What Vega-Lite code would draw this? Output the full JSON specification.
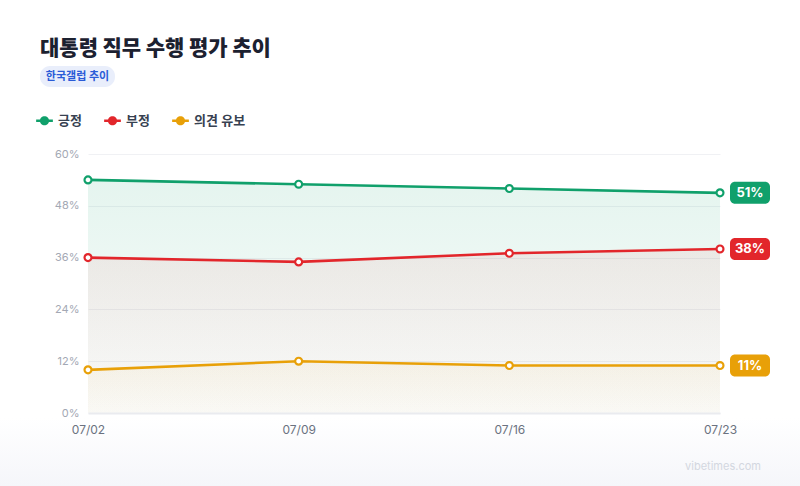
{
  "$schema": "https://vega.github.io/schema/vega-lite/v6.json",
  "width": 632,
  "height": 259,
  "autosize": {"type": "none"},
  "padding": {"left": 88, "top": 154, "right": 80, "bottom": 73},
  "background": "#ffffff",
  "title": {
    "text": "대통령 직무 수행 평가 추이",
    "anchor": "start",
    "frame": "group",
    "dx": -48,
    "offset": 7,
    "fontSize": 21,
    "fontWeight": 800,
    "color": "#1c2130"
  },
  "config": {
    "font": "Inter, 'Noto Sans CJK KR', sans-serif",
    "view": {"stroke": null},
    "axis": {"labelFont": "Inter, 'Noto Sans CJK KR', sans-serif"}
  },
  "data": {
    "values": [
      {"date": "07/02", "series": "긍정", "value": 54},
      {"date": "07/09", "series": "긍정", "value": 53},
      {"date": "07/16", "series": "긍정", "value": 52},
      {"date": "07/23", "series": "긍정", "value": 51},
      {"date": "07/02", "series": "부정", "value": 36},
      {"date": "07/09", "series": "부정", "value": 35},
      {"date": "07/16", "series": "부정", "value": 37},
      {"date": "07/23", "series": "부정", "value": 38},
      {"date": "07/02", "series": "의견 유보", "value": 10},
      {"date": "07/09", "series": "의견 유보", "value": 12},
      {"date": "07/16", "series": "의견 유보", "value": 11},
      {"date": "07/23", "series": "의견 유보", "value": 11}
    ]
  },
  "encoding": {
    "x": {
      "field": "date",
      "type": "ordinal",
      "scale": {"type": "point", "padding": 0},
      "axis": {
        "title": null,
        "labelAngle": 0,
        "labelFontSize": 12,
        "labelColor": "#6b7280",
        "labelPadding": 11,
        "ticks": false,
        "domain": true,
        "domainColor": "#eaebef",
        "domainWidth": 2,
        "grid": false,
        "zindex": 1
      }
    },
    "y": {
      "field": "value",
      "type": "quantitative",
      "scale": {"domain": [0, 60], "nice": false},
      "axis": {
        "title": null,
        "values": [0, 12, 24, 36, 48, 60],
        "labelExpr": "datum.value + '%'",
        "labelFontSize": 11,
        "labelColor": "#a3a8b4",
        "labelPadding": 9,
        "ticks": false,
        "domain": false,
        "gridColor": "#f0f1f4",
        "gridWidth": 1
      }
    }
  },
  "layer": [
    {
      "data": {"values": [{}]},
      "mark": {
        "type": "rect",
        "fill": {
          "gradient": "linear",
          "x1": 0, "y1": 0, "x2": 0, "y2": 1,
          "stops": [
            {"offset": 0, "color": "#ffffff"},
            {"offset": 1, "color": "#f5f6fa"}
          ]
        }
      },
      "encoding": {
        "x": {"value": -88},
        "x2": {"value": 712},
        "y": {"value": 264},
        "y2": {"value": 332}
      }
    },
    {
      "transform": [{"filter": "datum.series === '긍정'"}],
      "mark": {
        "type": "area",
        "fill": {
          "gradient": "linear",
          "x1": 0, "y1": 0, "x2": 0, "y2": 1,
          "stops": [
            {"offset": 0, "color": "rgba(16,160,107,0.11)"},
            {"offset": 1, "color": "rgba(16,160,107,0.02)"}
          ]
        }
      }
    },
    {
      "transform": [{"filter": "datum.series === '부정'"}],
      "mark": {
        "type": "area",
        "fill": {
          "gradient": "linear",
          "x1": 0, "y1": 0, "x2": 0, "y2": 1,
          "stops": [
            {"offset": 0, "color": "rgba(224,38,43,0.07)"},
            {"offset": 1, "color": "rgba(224,38,43,0.01)"}
          ]
        }
      }
    },
    {
      "transform": [{"filter": "datum.series === '의견 유보'"}],
      "mark": {
        "type": "area",
        "fill": {
          "gradient": "linear",
          "x1": 0, "y1": 0, "x2": 0, "y2": 1,
          "stops": [
            {"offset": 0, "color": "rgba(232,160,8,0.06)"},
            {"offset": 1, "color": "rgba(232,160,8,0.02)"}
          ]
        }
      }
    },
    {
      "mark": {"type": "line", "strokeWidth": 2.6},
      "encoding": {
        "color": {
          "field": "series",
          "type": "nominal",
          "scale": {
            "domain": ["긍정", "부정", "의견 유보"],
            "range": ["#10a06b", "#e2262b", "#e8a008"]
          },
          "legend": {
            "title": null,
            "orient": "none",
            "legendX": -52,
            "legendY": -42,
            "direction": "horizontal",
            "symbolType": "M-1,-0.16 L1,-0.16 L1,0.16 L-1,0.16 Z M0.55,0 A0.55,0.55 0 1,1 -0.55,0 A0.55,0.55 0 1,1 0.55,0 Z",
            "symbolSize": 280,
            "symbolStrokeWidth": 0,
            "labelFontSize": 13,
            "labelFontWeight": 600,
            "labelColor": "#374151",
            "labelOffset": 5,
            "columnPadding": 22,
            "encode": {
              "symbols": {
                "update": {
                  "fill": {"scale": "color", "field": "value"},
                  "strokeWidth": {"value": 0}
                }
              }
            }
          }
        }
      }
    },
    {
      "mark": {"type": "point", "filled": false, "fill": "#ffffff", "strokeWidth": 2.2, "size": 48, "opacity": 1},
      "encoding": {
        "color": {"field": "series", "type": "nominal", "legend": null}
      }
    },
    {
      "transform": [{"filter": "datum.date === '07/23'"}],
      "mark": {"type": "rect", "width": 40, "height": 22, "cornerRadius": 5, "xOffset": 30},
      "encoding": {
        "color": {"field": "series", "type": "nominal", "legend": null}
      }
    },
    {
      "transform": [{"filter": "datum.date === '07/23'"}],
      "mark": {
        "type": "text",
        "dx": 30,
        "fontSize": 13,
        "fontWeight": 700,
        "fill": "#ffffff",
        "text": {"expr": "datum.value + '%'"}
      }
    },
    {
      "data": {"values": [{}]},
      "mark": {"type": "rect", "fill": "#e9eefb", "cornerRadius": 10},
      "encoding": {
        "x": {"value": -48},
        "x2": {"value": 27},
        "y": {"value": -88},
        "y2": {"value": -67}
      }
    },
    {
      "data": {"values": [{"badge": "한국갤럽 추이"}]},
      "mark": {"type": "text", "fontSize": 11, "fontWeight": 700, "fill": "#2a5bd7", "align": "center", "baseline": "middle"},
      "encoding": {
        "text": {"field": "badge"},
        "x": {"value": -10.5},
        "y": {"value": -77}
      }
    },
    {
      "data": {"values": [{"site": "vibetimes.com"}]},
      "mark": {"type": "text", "fontSize": 11, "fill": "#d3d7e0", "align": "center", "baseline": "middle"},
      "encoding": {
        "text": {"field": "site"},
        "x": {"value": 635},
        "y": {"value": 313}
      }
    }
  ]
}
